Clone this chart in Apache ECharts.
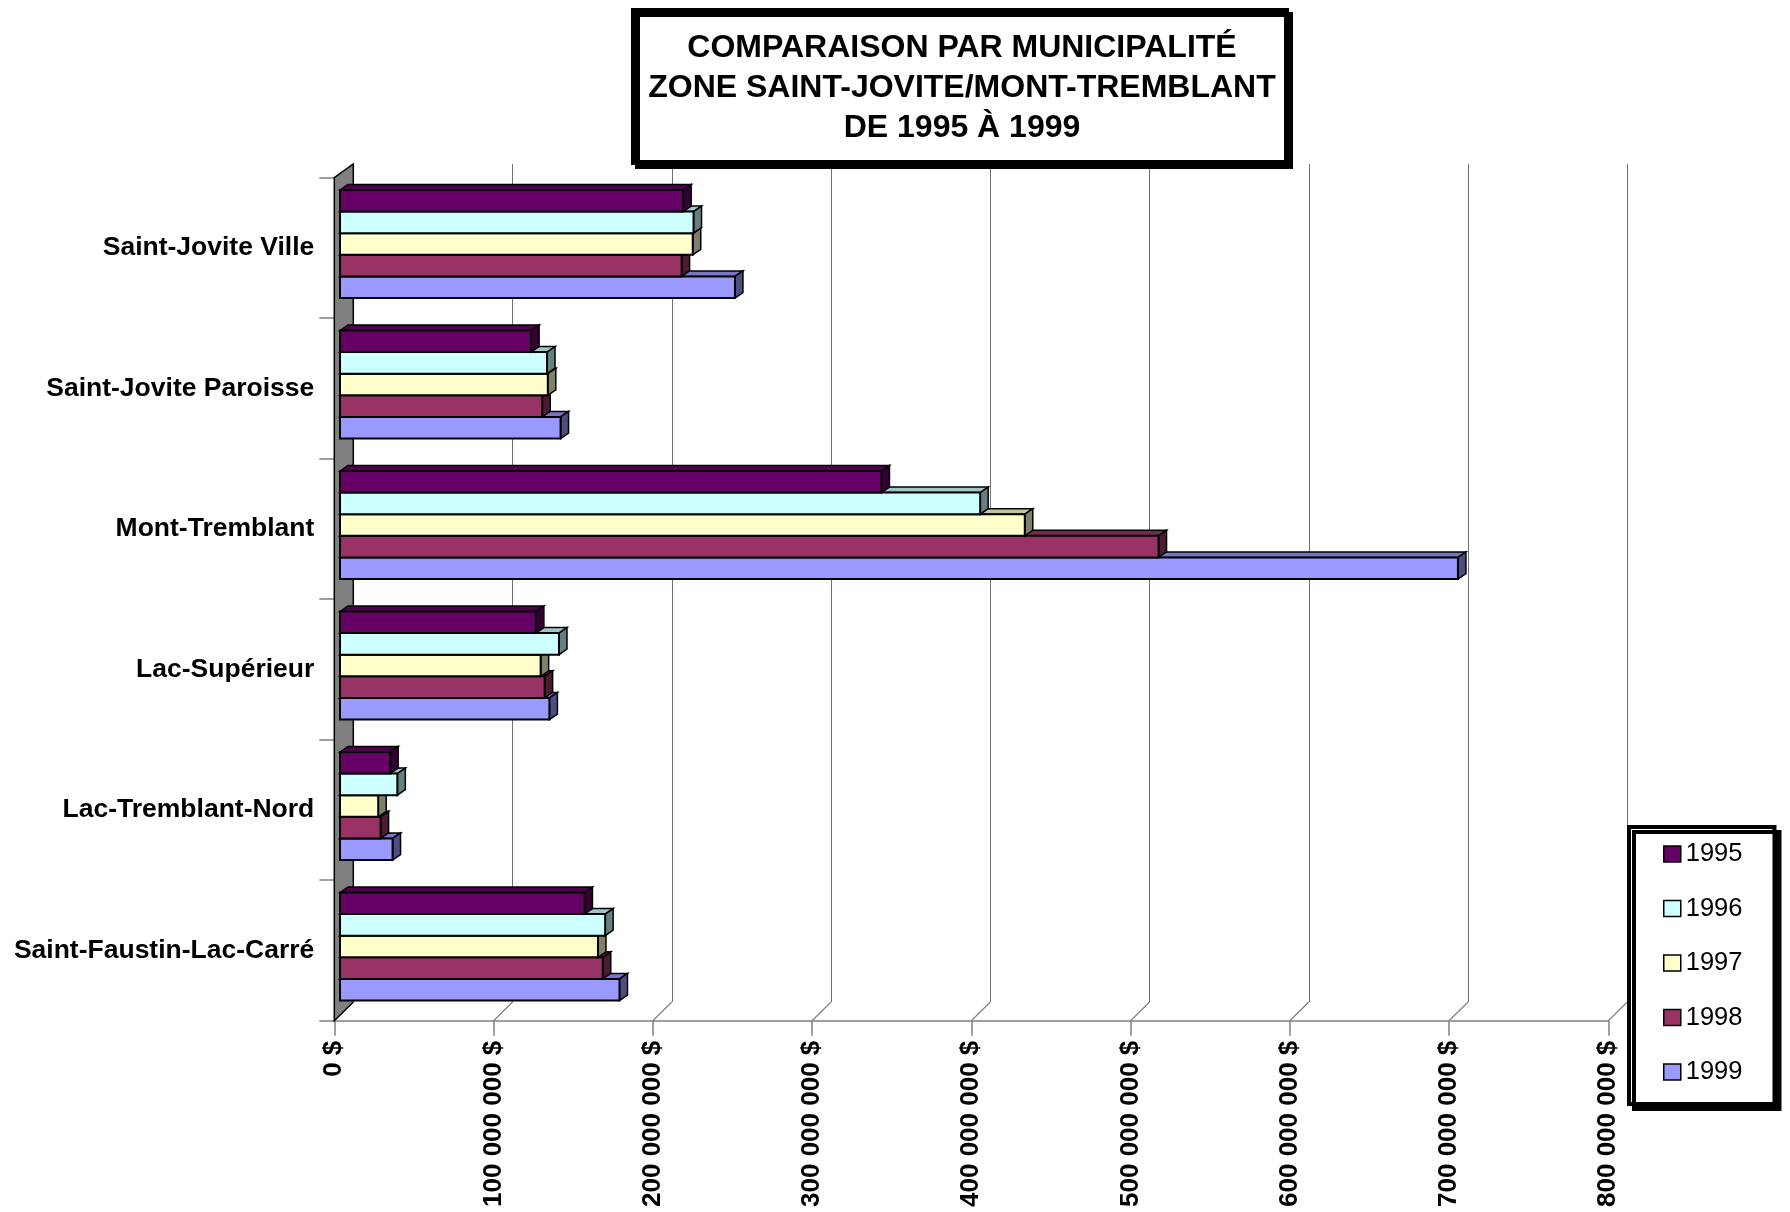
<!DOCTYPE html>
<html>
<head>
<meta charset="utf-8">
<script src="https://cdn.jsdelivr.net/npm/echarts@6/dist/echarts.min.js"></script>
<style>
html,body{margin:0;padding:0;background:#fff;}
#chart{width:1790px;height:1212px;}
</style>
</head>
<body>
<div id="chart"></div>
<script>
// ---------- DATA ----------
const categories = ['Saint-Jovite Ville', 'Saint-Jovite Paroisse', 'Mont-Tremblant', 'Lac-Supérieur', 'Lac-Tremblant-Nord', 'Saint-Faustin-Lac-Carré'];
const years = ['1995', '1996', '1997', '1998', '1999'];
const v1995 = [215500000, 120000000, 340000000, 123000000, 31500000, 153500000];
const v1996 = [222000000, 130000000, 402000000, 137500000, 36000000, 166500000];
const v1997 = [221500000, 130500000, 430000000, 126000000, 24000000, 162000000];
const v1998 = [214500000, 127000000, 514000000, 128500000, 25500000, 165000000];
const v1999 = [248000000, 138500000, 702000000, 131500000, 33000000, 175500000];
const xTicks = [0, 100000000, 200000000, 300000000, 400000000, 500000000, 600000000, 700000000, 800000000];
const titleLines = ['COMPARAISON PAR MUNICIPALITÉ', 'ZONE SAINT-JOVITE/MONT-TREMBLANT', 'DE 1995 À 1999'];

// ---------- STYLE ----------
const seriesValues = [v1995, v1996, v1997, v1998, v1999];
const colors = ['#660066', '#CCFFFF', '#FFFFCC', '#993366', '#9999FF'];
const FONT = 'Liberation Sans, Arial, sans-serif';
const XMIN = xTicks[0], XMAX = xTicks[xTicks.length - 1], XSTEP = xTicks[1] - xTicks[0];
const GROUP_FRAC = 108 / 140.5;
const DX = 8, DY = 5.5;           // bar depth
const WALL_DX = 19, WALL_DY_TOP = 13.7, WALL_DY_BOTTOM = 18.7;

function shade(hex, f) {
  const n = parseInt(hex.slice(1), 16);
  const r = Math.round(((n >> 16) & 255) * f), g = Math.round(((n >> 8) & 255) * f), b = Math.round((n & 255) * f);
  return 'rgb(' + r + ',' + g + ',' + b + ')';
}
function money(v) {
  return String(Math.round(v)).replace(/\B(?=(\d{3})+(?!\d))/g, ' ') + ' $';
}

function barRenderer(s) {
  return function (params, api) {
    const val = api.value(0), cat = api.value(1);
    const p0 = api.coord([0, cat]);
    const p1 = api.coord([val, cat]);
    const band = api.size([0, 1])[1];
    const groupH = band * GROUP_FRAC;
    const h = groupH / years.length;
    const y = p0[1] - groupH / 2 + s * h;
    const x0 = p0[0], x1 = p1[0];
    const c = colors[s];
    return {
      type: 'group',
      children: [
        { type: 'polygon', shape: { points: [[x0, y], [x0 + DX, y - DY], [x1 + DX, y - DY], [x1, y]] },
          style: { fill: shade(c, 0.78), stroke: '#000', lineWidth: 1.5 } },
        { type: 'polygon', shape: { points: [[x1, y], [x1 + DX, y - DY], [x1 + DX, y + h - DY], [x1, y + h]] },
          style: { fill: shade(c, 0.5), stroke: '#000', lineWidth: 1.5 } },
        { type: 'rect', shape: { x: x0, y: y, width: x1 - x0, height: h },
          style: { fill: c, stroke: '#000', lineWidth: 2 } }
      ]
    };
  };
}

const barSeries = years.map(function (yr, s) {
  return {
    name: yr,
    type: 'custom',
    xAxisIndex: 2, yAxisIndex: 2,
    z: 10 + (years.length - s),
    itemStyle: { color: colors[s], borderColor: '#000', borderWidth: 1.5 },
    encode: { x: 0, y: 1 },
    data: seriesValues[s].map(function (v, i) { return [v, i]; }),
    renderItem: barRenderer(s),
    silent: true
  };
});

const chart = echarts.init(document.getElementById('chart'), null, { renderer: 'canvas' });
chart.setOption({
  animation: false,
  backgroundColor: '#fff',
  title: {
    text: titleLines.join('\n'),
    left: 947, top: 10,
    textAlign: 'center',
    padding: [18, 11, 15, 15],
    backgroundColor: '#fff',
    borderColor: '#000', borderWidth: 5,
    shadowColor: '#000', shadowOffsetX: 4, shadowOffsetY: 4, shadowBlur: 0,
    textStyle: { fontFamily: FONT, fontSize: 32, fontWeight: 'bold', lineHeight: 40, color: '#000' }
  },
  legend: {
    data: years,
    orient: 'vertical',
    left: 1629, top: 827,
    padding: [14, 32, 19, 34],
    itemGap: 28.5,
    itemWidth: 17, itemHeight: 16, itemTextGap: 6,
    icon: 'rect',
    backgroundColor: '#fff',
    borderColor: '#000', borderWidth: 4, borderRadius: 0,
    shadowColor: '#000', shadowOffsetX: 5, shadowOffsetY: 5, shadowBlur: 0,
    itemStyle: { borderColor: '#000', borderWidth: 1.5 },
    textStyle: { fontFamily: FONT, fontSize: 25.5, lineHeight: 25, color: '#000' },
    selectedMode: false
  },
  grid: [
    { left: 334.3, top: 177.7, width: 1274, height: 843, outerBoundsMode: 'none', containLabel: false },
    { left: 353.3, top: 164, width: 1274, height: 838, outerBoundsMode: 'none', containLabel: false },
    { left: 340, top: 173.75, width: 1274, height: 843, outerBoundsMode: 'none', containLabel: false }
  ],
  xAxis: [
    { gridIndex: 0, type: 'value', min: XMIN, max: XMAX, interval: XSTEP,
      axisLine: { show: true, lineStyle: { color: '#808080', width: 1.5 } },
      axisTick: { show: true, length: 15, lineStyle: { color: '#808080', width: 1.5 } },
      splitLine: { show: false },
      axisLabel: { rotate: 90, margin: 20, fontFamily: FONT, fontSize: 26, fontWeight: 'bold', color: '#000', formatter: money,
        showMinLabel: true, showMaxLabel: true } },
    { gridIndex: 1, type: 'value', min: XMIN, max: XMAX, interval: XSTEP,
      axisLine: { show: false }, axisTick: { show: false }, axisLabel: { show: false },
      splitLine: { show: true, lineStyle: { color: '#707070', width: 1 } } },
    { gridIndex: 2, type: 'value', min: XMIN, max: XMAX, interval: XSTEP, show: false, splitLine: { show: false } }
  ],
  yAxis: [
    { gridIndex: 0, type: 'category', data: categories, inverse: true,
      axisLine: { show: false },
      axisTick: { show: true, length: 15, lineStyle: { color: '#808080', width: 1.5 } },
      splitLine: { show: false },
      axisLabel: { margin: 20, fontFamily: FONT, fontSize: 26.5, fontWeight: 'bold', color: '#000', padding: [0, 0, -3, 0] } },
    { gridIndex: 1, type: 'category', data: categories, inverse: true, show: false, splitLine: { show: false } },
    { gridIndex: 2, type: 'category', data: categories, inverse: true, show: false, splitLine: { show: false } }
  ],
  series: [
    {
      type: 'custom', name: 'floor', xAxisIndex: 0, yAxisIndex: 0, z: 3, silent: true,
      encode: { x: 0, y: 1 },
      data: xTicks.map(function (v) { return [v, 0]; }),
      renderItem: function (params, api) {
        const cs = params.coordSys;
        const x = api.coord([api.value(0), 0])[0];
        const yb = cs.y + cs.height;
        return { type: 'line', shape: { x1: x, y1: yb, x2: x + WALL_DX, y2: yb - WALL_DY_BOTTOM },
          style: { stroke: '#808080', lineWidth: 1.2 } };
      }
    },
    {
      type: 'custom', name: 'wall', xAxisIndex: 0, yAxisIndex: 0, z: 4, silent: true,
      encode: { x: 0, y: 1 },
      data: [[0, 0]],
      renderItem: function (params, api) {
        const cs = params.coordSys;
        const x = api.coord([0, 0])[0];
        return { type: 'polygon', shape: { points: [
            [x, cs.y], [x + WALL_DX, cs.y - WALL_DY_TOP],
            [x + WALL_DX, cs.y + cs.height - WALL_DY_BOTTOM], [x, cs.y + cs.height]] },
          style: { fill: '#808080', stroke: '#000', lineWidth: 1.5 } };
      }
    }
  ].concat(barSeries)
});
</script>
</body>
</html>
